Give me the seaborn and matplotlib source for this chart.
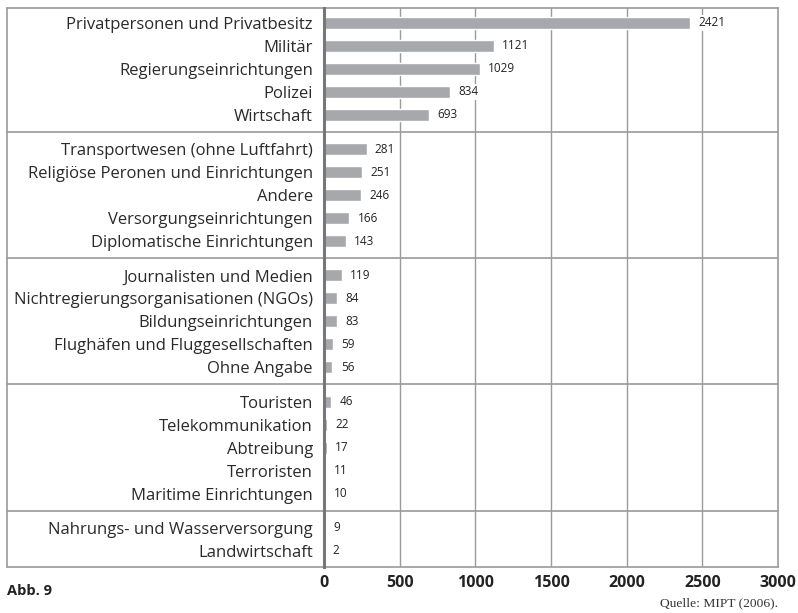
import matplotlib
matplotlib.use("Agg")
import matplotlib.pyplot as plt
import seaborn as sns
import pandas as pd

# Gruppen von Anschlagszielen (Quelle: MIPT 2006)
labels_1 = ["Privatpersonen und Privatbesitz", "Militär", "Regierungseinrichtungen", "Polizei", "Wirtschaft"]
values_1 = [2421, 1121, 1029, 834, 693]
labels_2 = ["Transportwesen (ohne Luftfahrt)", "Religiöse Peronen und Einrichtungen", "Andere",
            "Versorgungseinrichtungen", "Diplomatische Einrichtungen"]
values_2 = [281, 251, 246, 166, 143]
labels_3 = ["Journalisten und Medien", "Nichtregierungsorganisationen (NGOs)", "Bildungseinrichtungen",
            "Flughäfen und Fluggesellschaften", "Ohne Angabe"]
values_3 = [119, 84, 83, 59, 56]
labels_4 = ["Touristen", "Telekommunikation", "Abtreibung", "Terroristen", "Maritime Einrichtungen"]
values_4 = [46, 22, 17, 11, 10]
labels_5 = ["Nahrungs- und Wasserversorgung", "Landwirtschaft"]
values_5 = [9, 2]

x_ticks = [0, 500, 1000, 1500, 2000, 2500, 3000]

groups = [(labels_1, values_1), (labels_2, values_2), (labels_3, values_3),
          (labels_4, values_4), (labels_5, values_5)]

GAP = 0.5
rows = []
separators = []
pos = 0.0
for g, (labs, vals) in enumerate(groups):
    for lab, val in zip(labs, vals):
        rows.append({"label": lab, "value": val, "pos": pos})
        pos += 1
    if g < len(groups) - 1:
        separators.append(pos - 0.5 + GAP / 2)
        pos += GAP
df = pd.DataFrame(rows)

sns.set_style("white")
plt.rcParams["font.family"] = ["Open Sans", "DejaVu Sans"]

fig = plt.figure(figsize=(7.98, 6.13), dpi=100)
ax = fig.add_axes([324 / 798, 1 - 567 / 613, (778 - 324) / 798, (567 - 8) / 613])

frame_col = "#9a9a9a"
ax.set_axisbelow(True)
for xv in x_ticks[1:-1]:
    ax.axvline(xv, color=frame_col, lw=1.0, zorder=0)

sns.barplot(data=df, x="value", y="pos", orient="h", native_scale=True,
            color="#a7a8ab", saturation=1, width=0.52, ax=ax, zorder=2)

for _, r in df.iterrows():
    ax.annotate(f"{r['value']}", xy=(r["value"], r["pos"]), xytext=(6, 0),
                textcoords="offset points", va="center", ha="left", fontsize=8.5,
                color="#222222", zorder=3,
                bbox=dict(boxstyle="square,pad=0.15", fc="white", ec="none"))

ax.set_xlim(0, 3000)
ax.set_ylim(df["pos"].max() + 0.7, -0.65)
ax.set_xticks(x_ticks)
ax.set_xticklabels([str(t) for t in x_ticks], fontweight="bold", fontsize=11.5, color="#222222")
ax.set_yticks(df["pos"])
ax.set_yticklabels(df["label"], fontsize=12, color="#2a2a2a")
ax.tick_params(axis="both", length=0)
ax.tick_params(axis="y", pad=8)
ax.tick_params(axis="x", pad=6)
ax.set_xlabel("")
ax.set_ylabel("")

for s in ["top", "bottom", "right"]:
    ax.spines[s].set_color(frame_col)
    ax.spines[s].set_linewidth(1.2)
ax.spines["left"].set_color("#777777")
ax.spines["left"].set_linewidth(2.2)
ax.spines["left"].set_zorder(4)

# Rahmen um den Beschriftungsbereich und Trennlinien der Gruppen
left_edge = (7 - 324) / (778 - 324)
trans = ax.get_yaxis_transform()
ylo, yhi = ax.get_ylim()
ax.plot([left_edge, 0], [yhi, yhi], transform=trans, color=frame_col, lw=1.2, clip_on=False)
ax.plot([left_edge, 0], [ylo, ylo], transform=trans, color=frame_col, lw=1.2, clip_on=False)
ax.plot([left_edge, left_edge], [ylo, yhi], transform=trans, color=frame_col, lw=1.2, clip_on=False)
for sy in separators:
    ax.plot([left_edge, 1], [sy, sy], transform=trans, color=frame_col, lw=1.2,
            clip_on=False, zorder=1)

fig.text(7 / 798, 1 - 591 / 613, "Abb. 9", fontweight="bold", fontsize=10.5,
         ha="left", va="center", color="#222222")
fig.text(778 / 798, 1 - 603 / 613, "Quelle: MIPT (2006).", family="Liberation Serif",
         fontsize=9.7, ha="right", va="center", color="#333333")

fig.savefig("out.png", dpi=100)
plt.close(fig)
